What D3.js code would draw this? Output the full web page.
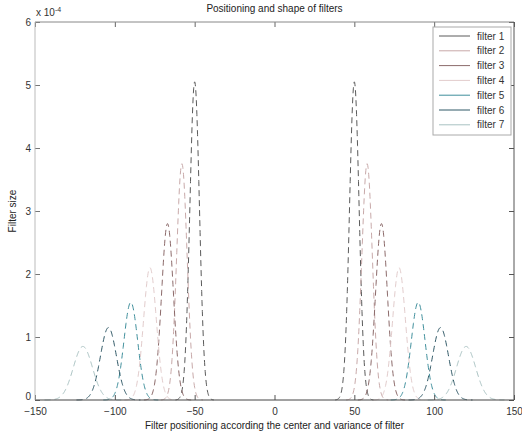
<!DOCTYPE html>
<html lang="en">
<head>
<meta charset="UTF-8">
<title>Positioning and shape of filters</title>
<script src="https://cdnjs.cloudflare.com/ajax/libs/d3/7.8.0/d3.min.js"></script>
<style>
  body { margin: 0; background: #fff; }
  svg { font-family: "Liberation Sans", Arial, sans-serif; }
  .tick text { fill: #333; font-size: 10px; }
</style>
</head>
<body>
<svg id="viz" width="522" height="434"></svg>
<script>
// filter parameters (y in units of 1e-4)
const filters = ["filter 1", "filter 2", "filter 3", "filter 4", "filter 5", "filter 6", "filter 7"];
const centers = [50, 58, 67, 78, 90, 104, 120];
const peaks = [5.05, 3.75, 2.8, 2.1, 1.55, 1.15, 0.85];
const sigmas = [3.0, 3.3, 3.7, 4.0, 4.3, 5.0, 6.0];
const colors = ["#5a5a5a", "#c8a9a9", "#8c6a6a", "#e2cccc", "#3f8f9c", "#2f5866", "#a9c2c2"];
const xTicks = [-150, -100, -50, 0, 50, 100, 150];
const yTicks = [0, 1, 2, 3, 4, 5, 6];

const W = 522, H = 434;
const m = {top: 22, right: 8, bottom: 34, left: 35};
const svg = d3.select("#viz");

const x = d3.scaleLinear().domain([-150, 150]).range([m.left, W - m.right]);
const y = d3.scaleLinear().domain([0, 6]).range([H - m.bottom, m.top]);

// curves, one lobe on each side of zero
const line = d3.line().x(d => x(d[0])).y(d => y(d[1]));
filters.forEach((f, i) => {
    [-1, 1].forEach(side => {
        let c = side * centers[i], s = sigmas[i];
        let pts = d3.range(c - 4 * s, c + 4 * s + 0.01, 0.2)
            .map(v => [v, peaks[i] * Math.exp(-((v - c) ** 2) / (2 * s * s))]);
        svg.append("path")
            .attr("d", line(pts))
            .attr("fill", "none")
            .attr("stroke", colors[i])
            .attr("stroke-width", 1)
            .attr("stroke-dasharray", "6,4");
    });
});

// axes, MATLAB style ticks pointing inward
const tl = 5;
svg.append("g").attr("transform", `translate(0,${y(0)})`)
    .call(d3.axisBottom(x).tickValues(xTicks).tickSizeInner(-tl).tickSizeOuter(0).tickPadding(8))
    .call(g => g.select(".domain").remove())
    .call(g => g.selectAll(".tick line").attr("stroke", "#555"));
svg.append("g").attr("transform", `translate(0,${y(6)})`)
    .call(d3.axisTop(x).tickValues(xTicks).tickSizeInner(-tl).tickSizeOuter(0).tickFormat(""))
    .call(g => g.select(".domain").remove())
    .call(g => g.selectAll(".tick line").attr("stroke", "#666"));
svg.append("g").attr("transform", `translate(${x(-150)},0)`)
    .call(d3.axisLeft(y).tickValues(yTicks).tickFormat(d3.format("d"))
        .tickSizeInner(-tl).tickSizeOuter(0).tickPadding(4))
    .call(g => g.select(".domain").remove())
    .call(g => g.selectAll(".tick line").attr("stroke", "#777"))
    .call(g => g.selectAll(".tick text").filter(d => d === 0).attr("dy", "-0.05em"));
svg.append("g").attr("transform", `translate(${x(150)},0)`)
    .call(d3.axisRight(y).tickValues(yTicks).tickSizeInner(-tl).tickSizeOuter(0).tickFormat(""))
    .call(g => g.select(".domain").remove())
    .call(g => g.selectAll(".tick line").attr("stroke", "#555"));

// box
svg.append("line").attr("x1", x(-150)).attr("x2", x(150)).attr("y1", y(0)).attr("y2", y(0)).attr("stroke", "#444");
svg.append("line").attr("x1", x(-150)).attr("x2", x(150)).attr("y1", y(6)).attr("y2", y(6)).attr("stroke", "#888");
svg.append("line").attr("x1", x(-150)).attr("x2", x(-150)).attr("y1", y(0)).attr("y2", y(6)).attr("stroke", "#bbb");
svg.append("line").attr("x1", x(150)).attr("x2", x(150)).attr("y1", y(0)).attr("y2", y(6)).attr("stroke", "#555");

// exponent label
const ex = svg.append("text").attr("x", x(-150) + 1).attr("y", m.top - 6)
    .attr("font-size", 10).attr("fill", "#333");
ex.append("tspan").text("x 10");
ex.append("tspan").attr("dy", -4).attr("font-size", 7).text("-4");

// titles
svg.append("text").attr("x", x(0)).attr("y", 12).attr("text-anchor", "middle")
    .attr("font-size", 10).attr("fill", "#222").text("Positioning and shape of filters");
svg.append("text").attr("x", x(0)).attr("y", 429).attr("text-anchor", "middle")
    .attr("font-size", 10).attr("fill", "#222")
    .text("Filter positioning according the center and variance of filter");
svg.append("text").attr("transform", `translate(16,${y(3)}) rotate(-90)`)
    .attr("text-anchor", "middle").attr("font-size", 10).attr("fill", "#222").text("Filter size");

// legend
const lg = svg.append("g").attr("transform", "translate(433,27)");
lg.append("rect").attr("width", 78).attr("height", 108)
    .attr("fill", "#fff").attr("stroke", "#aaa");
filters.forEach((f, i) => {
    let yy = 9 + i * 14.8;
    lg.append("line").attr("x1", 6).attr("x2", 37).attr("y1", yy).attr("y2", yy)
        .attr("stroke", colors[i]).attr("stroke-width", 1);
    lg.append("text").attr("x", 44).attr("y", yy + 3.5)
        .attr("font-size", 10).attr("fill", "#333").text(f);
});
</script>
</body>
</html>
